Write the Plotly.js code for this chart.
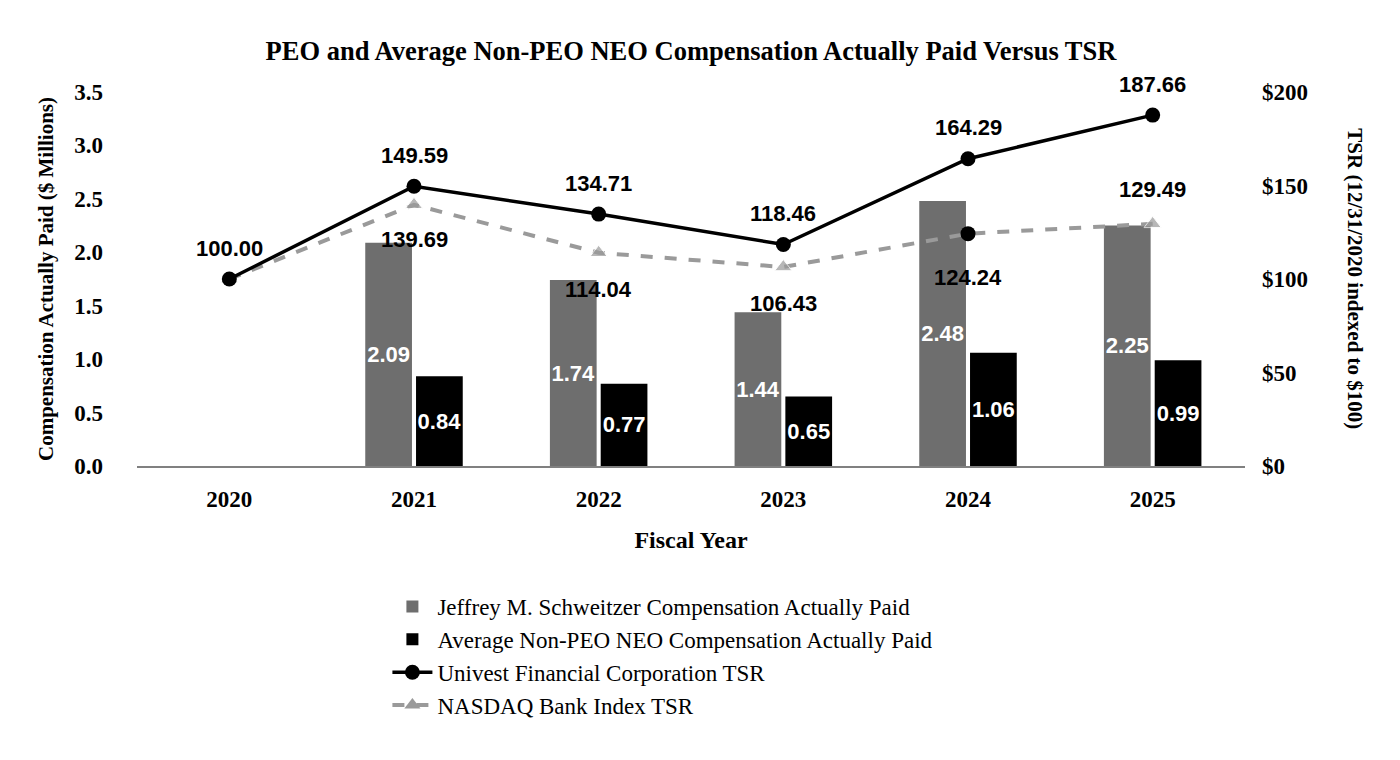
<!DOCTYPE html>
<html>
<head>
<meta charset="utf-8">
<script src="https://cdn.plot.ly/plotly-3.0.1.min.js"></script>
<style>html,body{margin:0;padding:0;background:#fff}#chart{width:1400px;height:760px}</style>
</head>
<body>
<div id="chart"></div>
<script>
const years = ['2020', '2021', '2022', '2023', '2024', '2025'];
const peoCap = [null, 2.09, 1.74, 1.44, 2.48, 2.25];
const neoCap = [null, 0.84, 0.77, 0.65, 1.06, 0.99];
const univestTsr = [100.00, 149.59, 134.71, 118.46, 164.29, 187.66];
const nasdaqTsr = [100.00, 139.69, 114.04, 106.43, 124.24, 129.49];
const leftTicks = [0, 0.5, 1.0, 1.5, 2.0, 2.5, 3.0, 3.5];
const leftTickText = ['0.0', '0.5', '1.0', '1.5', '2.0', '2.5', '3.0', '3.5'];
const rightTicks = [0, 50, 100, 150, 200];
const rightTickText = ['$0', '$50', '$100', '$150', '$200'];

const serif = 'Liberation Serif, Times New Roman, serif';
const sans = 'Liberation Sans, Arial, sans-serif';

const fmt = v => v == null ? '' : v.toFixed(2);
const blackPointIdx = 4;

const traces = [
  {
    type: 'bar', name: 'Jeffrey M. Schweitzer Compensation Actually Paid',
    x: years, y: peoCap, marker: {color: '#6e6e6e'},
    text: peoCap.map(fmt), textposition: 'inside', insidetextanchor: 'middle',
    textangle: 0, constraintext: 'none',
    textfont: {family: sans, size: 22, color: '#ffffff', weight: 'bold'},
    hoverinfo: 'none'
  },
  {
    type: 'bar', name: 'Average Non-PEO NEO Compensation Actually Paid',
    x: years, y: neoCap, marker: {color: '#000000'},
    text: neoCap.map(fmt), textposition: 'inside', insidetextanchor: 'middle',
    textangle: 0, constraintext: 'none',
    textfont: {family: sans, size: 22, color: '#ffffff', weight: 'bold'},
    hoverinfo: 'none'
  },
  {
    type: 'scatter', mode: 'lines+markers', name: 'NASDAQ Bank Index TSR',
    x: years, y: nasdaqTsr, yaxis: 'y2',
    line: {color: '#9a9a9a', width: 4, dash: 'dash'},
    marker: {
      symbol: 'triangle-up', color: '#9a9a9a',
      size: years.map((y, i) => i === blackPointIdx ? 0 : 15)
    },
    hoverinfo: 'none', showlegend: false
  },
  {
    type: 'scatter', mode: 'markers', name: 'NASDAQ Bank Index TSR (2024)',
    x: [years[blackPointIdx]], y: [nasdaqTsr[blackPointIdx]], yaxis: 'y2',
    marker: {symbol: 'circle', color: '#000000', size: 15, opacity: 1},
    hoverinfo: 'none', showlegend: false
  },
  {
    type: 'scatter', mode: 'lines+markers', name: 'Univest Financial Corporation TSR',
    x: years, y: univestTsr, yaxis: 'y2',
    line: {color: '#000000', width: 3.5},
    marker: {symbol: 'circle', color: '#000000', size: 15},
    hoverinfo: 'none'
  },
  {
    type: 'scatter', mode: 'lines+markers', name: 'NASDAQ Bank Index TSR',
    x: [null], y: [null], yaxis: 'y2',
    line: {color: '#9a9a9a', width: 4, dash: 'dash'},
    marker: {symbol: 'triangle-up', color: '#9a9a9a', size: 14},
    hoverinfo: 'none'
  }
];

const annotations = [];
univestTsr.forEach((v, i) => {
  annotations.push({
    x: i, y: v, xref: 'x', yref: 'y2', text: fmt(v), showarrow: false,
    yshift: 31, font: {family: sans, size: 22, color: '#000', weight: 'bold'}
  });
});
const nasdaqShift = [null, -35, -37, -37, -44, 34];
nasdaqTsr.forEach((v, i) => {
  if (nasdaqShift[i] == null) return;
  annotations.push({
    x: i, y: v, xref: 'x', yref: 'y2', text: fmt(v), showarrow: false,
    yshift: nasdaqShift[i], font: {family: sans, size: 22, color: '#000', weight: 'bold'}
  });
});
annotations.push({
  xref: 'paper', yref: 'paper', x: 1.099, y: 0.5, xanchor: 'center', textangle: 90,
  text: 'TSR (12/31/2020 indexed to $100)', showarrow: false,
  font: {family: serif, size: 21, color: '#000', weight: 'bold'}
});

const layout = {
  width: 1400, height: 760,
  paper_bgcolor: '#ffffff', plot_bgcolor: '#ffffff',
  margin: {l: 137, r: 155, t: 92, b: 294},
  title: {
    text: 'PEO and Average Non-PEO NEO Compensation Actually Paid Versus TSR',
    x: 0.5, xref: 'paper', y: 0.945, yref: 'container',
    font: {family: serif, size: 26.5, color: '#000', weight: 'bold'}
  },
  barmode: 'group', bargap: 0.45, bargroupgap: 0.08,
  xaxis: {
    type: 'category', categoryarray: years, range: [-0.5, 5.5],
    showline: true, linecolor: '#808080', linewidth: 1.5,
    showgrid: false, zeroline: false, ticks: '',
    ticklabelstandoff: 12,
    tickfont: {family: serif, size: 23, color: '#000', weight: 'bold'},
    title: {text: 'Fiscal Year', standoff: 20, font: {family: serif, size: 24, color: '#000', weight: 'bold'}}
  },
  yaxis: {
    range: [0, 3.5], tickvals: leftTicks, ticktext: leftTickText,
    showgrid: false, zeroline: false, showline: false, ticks: '',
    ticklabelstandoff: 33,
    tickfont: {family: serif, size: 23, color: '#000', weight: 'bold'},
    title: {text: 'Compensation Actually Paid ($ Millions)', standoff: 14, font: {family: serif, size: 21, color: '#000', weight: 'bold'}}
  },
  yaxis2: {
    overlaying: 'y', side: 'right', range: [0, 200],
    tickvals: rightTicks, ticktext: rightTickText,
    showgrid: false, zeroline: false, showline: false, ticks: '',
    ticklabelstandoff: 16,
    tickfont: {family: serif, size: 23, color: '#000', weight: 'bold'}
  },
  legend: {
    x: 0.226, xanchor: 'left', y: -0.318, yanchor: 'top', orientation: 'v',
    traceorder: 'normal', bgcolor: 'rgba(0,0,0,0)',
    font: {family: serif, size: 23, color: '#000'}, itemwidth: 40
  },
  annotations: annotations,
  showlegend: true
};

Plotly.newPlot('chart', traces, layout, {displayModeBar: false, staticPlot: true});
</script>
</body>
</html>
